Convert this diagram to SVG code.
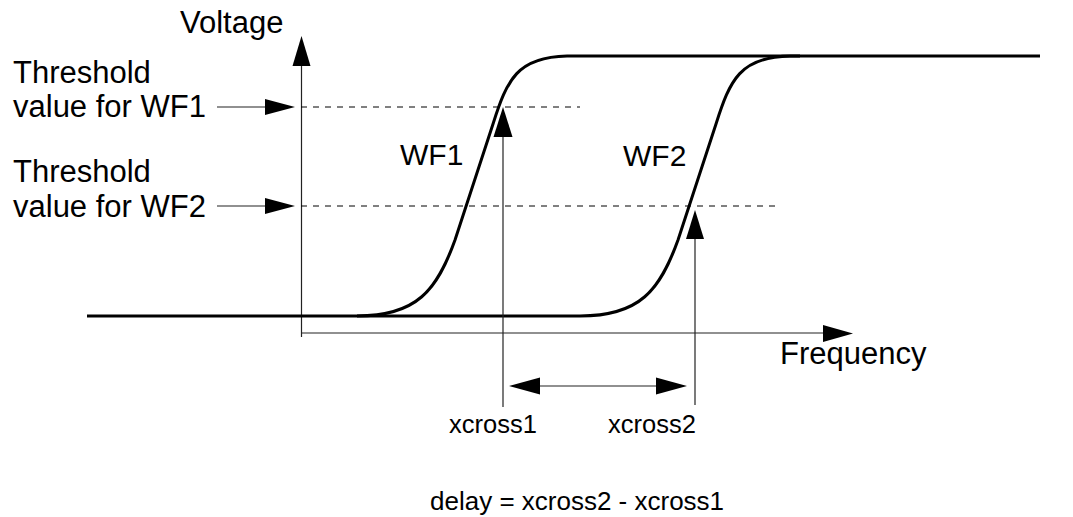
<svg xmlns="http://www.w3.org/2000/svg" width="1073" height="517" viewBox="0 0 1073 517">
<defs>
<style>
text{font-family:"Liberation Sans",Arial,sans-serif;fill:#000}
.lbl{font-size:31px}
.wf{font-size:30px}
.sm{font-size:25.5px}
.thin{stroke:#222;stroke-width:1.2;fill:none}
.dash{stroke:#000;stroke-width:1;stroke-dasharray:6 6;fill:none}
.curve{stroke:#000;stroke-width:3;fill:none;stroke-linejoin:round}
.head{fill:#000;stroke:none}
</style>
</defs>
<rect width="1073" height="517" fill="#fff"/>
<g id="axes">
<line class="thin" x1="301.5" y1="337" x2="301.5" y2="60"/>
<polygon class="head" points="301.5,36 292.5,66 310.5,66"/>
<line class="thin" x1="301" y1="333" x2="828" y2="333"/>
<polygon class="head" points="853,333.5 823,325 823,342"/>
</g>
<g id="thresholds">
<line class="dash" x1="301" y1="107" x2="580" y2="107"/>
<line class="dash" x1="301" y1="206" x2="780" y2="206"/>
</g>
<g id="wf2">
<path class="curve" d="M87,316 L580,316 C640,316 660,290 678,240 L716,124 C730,80 740,57 790,56 L800,56"/>
</g>
<g id="wf1">
<path class="curve" d="M357,316 C417,316 437,290 455,240 L493,124 C507,80 517,57 567,56 L1040,56"/>
</g>
<g id="connectors">
<line class="thin" x1="217" y1="107" x2="270" y2="107"/>
<polygon class="head" points="295,107 265,99 265,115"/>
<line class="thin" x1="217" y1="206" x2="270" y2="206"/>
<polygon class="head" points="295,206 265,198 265,214"/>
<line class="thin" x1="503" y1="407" x2="503" y2="132"/>
<polygon class="head" points="503,107 493.5,137 512.5,137"/>
<line class="thin" x1="695" y1="405" x2="695" y2="234"/>
<polygon class="head" points="695,210 686,239 704,239"/>
<line class="thin" x1="535" y1="386" x2="660" y2="386"/>
<polygon class="head" points="509,386 540,377.5 540,394.5"/>
<polygon class="head" points="687,386 656,377.5 656,394.5"/>
</g>
<g id="labels">
<text class="lbl" x="180" y="33">Voltage</text>
<text class="lbl" x="13" y="83">Threshold</text>
<text class="lbl" x="13" y="117">value for WF1</text>
<text class="lbl" x="13" y="182">Threshold</text>
<text class="lbl" x="13" y="216.5">value for WF2</text>
<text class="wf" x="400" y="165">WF1</text>
<text class="wf" x="623" y="166">WF2</text>
<text class="lbl" x="780" y="364">Frequency</text>
<text class="sm" x="449" y="433">xcross1</text>
<text class="sm" x="608" y="433">xcross2</text>
<text x="430" y="510" font-size="26">delay = xcross2 - xcross1</text>
</g>
</svg>
